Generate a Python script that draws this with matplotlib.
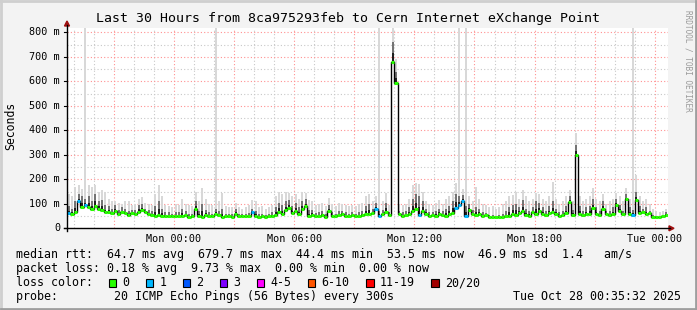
import matplotlib
matplotlib.use("Agg")
import matplotlib.pyplot as plt
from matplotlib.lines import Line2D
from matplotlib.patches import Rectangle, Polygon
import numpy as np

W, H = 697, 310
MONO = "DejaVu Sans Mono"

title = "Last 30 Hours from 8ca975293feb to Cern Internet eXchange Point"

# time axis: hours relative to Mon 00:00, one sample every 10 minutes
t_start = -5.34
step_h = 10 / 60.0

# median rtt (ms)
median = [62, 60, 66, 110, 88, 95, 85, 80, 92, 80,
          74, 65, 68, 62, 72, 60, 68, 63, 55, 64,
          60, 68, 74, 66, 60, 55, 52, 56, 52, 50,
          52, 50, 49, 52, 50, 54, 48, 50, 78, 52,
          48, 55, 52, 50, 60, 54, 48, 50, 52, 48,
          58, 50, 49, 52, 50, 68, 52, 48, 50, 47,
          50, 52, 55, 65, 58, 75, 82, 62, 70, 60,
          78, 90, 52, 55, 50, 52, 56, 48, 70, 52,
          50, 55, 58, 52, 50, 54, 50, 52, 55, 60,
          58, 62, 77, 51, 58, 68, 55, 677, 592, 58,
          52, 55, 60, 72, 78, 55, 70, 60, 52, 55,
          52, 60, 55, 52, 58, 62, 82, 96, 112, 52,
          75, 60, 55, 58, 52, 55, 48, 46, 47, 48,
          47, 50, 52, 60, 55, 62, 70, 55, 52, 65,
          58, 72, 60, 55, 62, 66, 58, 52, 55, 62,
          108, 55, 298, 58, 54, 60, 58, 82, 60, 55,
          80, 58, 55, 60, 96, 70, 58, 118, 60, 55,
          115, 62, 65, 58, 62, 48, 46, 47, 50, 56]

# top of the dense (dark) smoke, ms
smoke_dark = [90, 80, 110, 140, 130, 120, 130, 110, 140, 110,
              115, 95, 90, 80, 95, 75, 85, 80, 70, 75,
              75, 95, 100, 80, 75, 70, 90, 110, 80, 65,
              65, 60, 65, 65, 80, 70, 60, 60, 110, 70,
              100, 75, 65, 60, 80, 70, 80, 60, 60, 58,
              80, 60, 58, 60, 62, 80, 70, 58, 60, 55,
              58, 65, 85, 105, 95, 110, 115, 90, 105, 85,
              110, 120, 75, 75, 62, 65, 70, 58, 95, 65,
              60, 70, 72, 65, 60, 65, 60, 65, 70, 90,
              100, 80, 105, 70, 75, 105, 65, 760, 640, 70,
              65, 70, 85, 120, 140, 130, 110, 80, 65, 65,
              70, 80, 70, 80, 90, 110, 140, 130, 135, 90,
              100, 75, 85, 80, 65, 62, 55, 55, 52, 55,
              60, 70, 85, 95, 100, 85, 115, 80, 70, 85,
              110, 105, 85, 70, 90, 110, 80, 65, 70, 90,
              130, 75, 340, 90, 70, 85, 90, 120, 85, 70,
              110, 70, 70, 85, 120, 95, 70, 140, 85, 75,
              150, 90, 80, 85, 70, 55, 52, 52, 55, 65]

# max ping (top of light smoke), ms
smoke_max = [140, 130, 170, 175, 160, 900, 175, 170, 178, 150,
             156, 150, 120, 110, 110, 105, 100, 110, 110, 95,
             100, 120, 128, 105, 100, 95, 140, 178, 130, 95,
             90, 85, 100, 95, 120, 100, 95, 90, 150, 110,
             165, 120, 100, 95, 900, 110, 145, 90, 85, 85,
             105, 85, 80, 85, 95, 115, 110, 85, 90, 80,
             85, 95, 130, 150, 140, 150, 145, 130, 140, 120,
             150, 145, 115, 110, 95, 100, 105, 90, 125, 100,
             90, 105, 100, 95, 90, 95, 90, 100, 105, 130,
             140, 110, 130, 900, 110, 145, 95, 900, 690, 100,
             95, 100, 120, 176, 183, 180, 150, 110, 100, 95,
             105, 115, 100, 120, 130, 150, 183, 900, 160, 900,
             130, 110, 170, 120, 100, 95, 85, 90, 80, 85,
             100, 110, 130, 136, 150, 120, 156, 130, 110, 120,
             145, 140, 120, 110, 130, 190, 120, 100, 110, 130,
             155, 110, 390, 130, 110, 120, 130, 163, 120, 110,
             140, 100, 110, 120, 143, 130, 110, 164, 120, 900,
             217, 130, 110, 120, 100, 80, 70, 65, 70, 80]

# lost pings (of 20) per sample
lost_at = [0, 3, 5, 55, 92, 93, 105, 116, 117, 118, 119, 169]

loss_labels = ["0", "1", "2", "3", "4-5", "6-10", "11-19", "20/20"]
loss_colors = ["#26ff00", "#00b8ff", "#0059ff", "#7e00ff", "#ff00ff",
               "#ff5500", "#ff0000", "#a10000"]

xtick_pos = [0, 6, 12, 18, 24]
xtick_labels = ["Mon 00:00", "Mon 06:00", "Mon 12:00", "Mon 18:00", "Tue 00:00"]
ytick_pos = [0, 100, 200, 300, 400, 500, 600, 700, 800]
ytick_labels = ["0"] + ["%d m" % v for v in ytick_pos[1:]]

legend_lines = [
    "median rtt:  64.7 ms avg  679.7 ms max  44.4 ms min  53.5 ms now  46.9 ms sd  1.4   am/s",
    "packet loss: 0.18 % avg  9.73 % max  0.00 % min  0.00 % now",
]
probe_text = "probe:        20 ICMP Echo Pings (56 Bytes) every 300s"
stamp_text = "Tue Oct 28 00:35:32 2025"


def fx(x):
    return x / W


def fy(y):
    return 1 - y / H


med = np.array(median, float)
dark = np.array(smoke_dark, float)
top = np.array(smoke_max, float)
n = len(med)
x = t_start + np.arange(n) * step_h
edges = t_start + np.arange(n + 1) * step_h
col = [loss_colors[1] if i in lost_at else loss_colors[0] for i in range(n)]

fig = plt.figure(figsize=(W / 100, H / 100), dpi=100, facecolor="#f3f3f3")

# 3d-ish border
fig.add_artist(Line2D([fx(0), fx(697)], [fy(1), fy(1)], color="#cfcfcf", lw=2))
fig.add_artist(Line2D([fx(1), fx(1)], [fy(0), fy(310)], color="#cfcfcf", lw=2))
fig.add_artist(Line2D([fx(1), fx(697)], [fy(309), fy(309)], color="#9e9e9e", lw=2))
fig.add_artist(Line2D([fx(696), fx(696)], [fy(310), fy(1)], color="#9e9e9e", lw=2))

ax = fig.add_axes([fx(67), fy(228.3), (668 - 67) / W, (228.3 - 28) / H])
ax.set_facecolor("white")
ax.set_xlim(edges[0], edges[-1])
ax.set_ylim(0, 817.6)

# grid
ax.set_xticks(np.arange(-3, 25, 3), minor=False)
ax.set_xticks(np.arange(-5, 25, 1), minor=True)
ax.set_yticks(np.arange(0, 801, 100))
ax.set_yticks(np.arange(50, 801, 100), minor=True)
ax.grid(which="minor", color="#c8c8c8", lw=0.8, ls=(0, (1, 2)))
ax.grid(which="major", color="#ff9090", lw=0.8, ls=(0, (1, 2)))
ax.set_axisbelow(True)
ax.tick_params(which="both", length=0, labelbottom=False, labelleft=False)

# smoke, drawn as thin columns
xc = x + step_h / 2
bw = step_h * 0.6
ax.bar(xc, top - med, bottom=med, width=bw, color="#d8d8d8", lw=0, zorder=2)
ax.bar(xc, dark - med, bottom=med, width=bw, color="#747474", lw=0, zorder=3)
ax.bar(xc, (dark - med) / 2, bottom=med - 4, width=bw, color="#202020", lw=0, zorder=4)

# median, coloured by loss
ax.stairs(med, edges, baseline=None, color="black", lw=1, zorder=5)
ax.hlines(med, x, x + step_h, colors=col, lw=2.2, zorder=6)

for s in ax.spines.values():
    s.set_visible(False)

# axes with arrows
fig.add_artist(Line2D([fx(67), fx(67)], [fy(231), fy(25)], color="black", lw=1))
fig.add_artist(Line2D([fx(64), fx(670)], [fy(228.3), fy(228.3)], color="black", lw=1))
fig.add_artist(Polygon([(fx(64.5), fy(26)), (fx(69.5), fy(26)), (fx(67), fy(21))],
                       closed=True, transform=fig.transFigure, color="#a01010"))
fig.add_artist(Polygon([(fx(669), fy(225.8)), (fx(669), fy(230.8)), (fx(674), fy(228.3))],
                       closed=True, transform=fig.transFigure, color="#a01010"))

# tick labels
for v, lab in zip(ytick_pos, ytick_labels):
    fig.text(fx(60), fy(228.3 - v * 0.245), lab, ha="right", va="center",
             family=MONO, fontsize=7.3)
    fig.add_artist(Line2D([fx(64), fx(67)], [fy(228.3 - v * 0.245)] * 2, color="black", lw=0.8))
for v, lab in zip(xtick_pos, xtick_labels):
    fig.text(fx(67 + (v - t_start) * 601 / 30), fy(238.5), lab, ha="center", va="center",
             family=MONO, fontsize=7.3)

fig.text(fx(348.5), fy(18.5), title, ha="center", va="center", family=MONO, fontsize=9.5)
fig.text(fx(11), fy(126), "Seconds", ha="center", va="center", rotation=90,
         family=MONO, fontsize=8.3)
fig.text(fx(688), fy(61), "RRDTOOL / TOBI OETIKER", ha="center", va="center",
         rotation=-90, family=MONO, fontsize=5.6, color="#9a9a9a")

# legend
for k, line in enumerate(legend_lines):
    fig.text(fx(16), fy(254.5 + 14 * k), line, ha="left", va="center", family=MONO, fontsize=8.4)
fig.text(fx(16), fy(282.5), "loss color:", ha="left", va="center", family=MONO, fontsize=8.4)
box_x = [108.5, 145.5, 182.5, 219.5, 256.5, 307.5, 366, 431]
for bx, lab, c in zip(box_x, loss_labels, loss_colors):
    fig.add_artist(Rectangle((fx(bx), fy(286.5)), 7.5 / W, 8 / H, transform=fig.transFigure,
                             facecolor=c, edgecolor="black", lw=0.8))
    fig.text(fx(bx + 14), fy(282.5), lab, ha="left", va="center", family=MONO, fontsize=8.4)
fig.text(fx(16), fy(296.5), probe_text, ha="left", va="center", family=MONO, fontsize=8.4)
fig.text(fx(681), fy(296.5), stamp_text, ha="right", va="center", family=MONO, fontsize=8.4)

fig.savefig("out.png", dpi=100, facecolor=fig.get_facecolor())
